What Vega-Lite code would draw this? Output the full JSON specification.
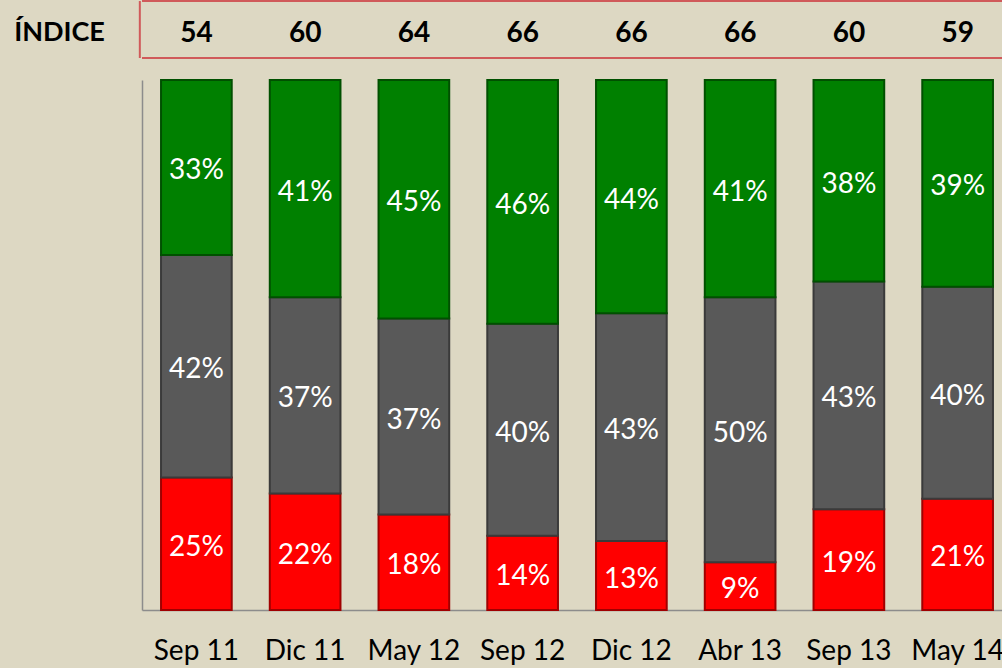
{
  "$schema": "https://vega.github.io/schema/vega-lite/v6.json",
  "width": 860,
  "height": 530,
  "autosize": {"type": "none"},
  "padding": {"left": 142, "top": 80, "right": 0, "bottom": 58},
  "background": "#DDD8C3",
  "config": {"view": {"stroke": null}, "font": "Lato"},
  "data": {"values": [
    {"period": "Sep 11", "cat": "Negativo", "pct": 0.25, "indice": 54},
    {"period": "Sep 11", "cat": "Neutral", "pct": 0.42, "indice": 54},
    {"period": "Sep 11", "cat": "Positivo", "pct": 0.33, "indice": 54},
    {"period": "Dic 11", "cat": "Negativo", "pct": 0.22, "indice": 60},
    {"period": "Dic 11", "cat": "Neutral", "pct": 0.37, "indice": 60},
    {"period": "Dic 11", "cat": "Positivo", "pct": 0.41, "indice": 60},
    {"period": "May 12", "cat": "Negativo", "pct": 0.18, "indice": 64},
    {"period": "May 12", "cat": "Neutral", "pct": 0.37, "indice": 64},
    {"period": "May 12", "cat": "Positivo", "pct": 0.45, "indice": 64},
    {"period": "Sep 12", "cat": "Negativo", "pct": 0.14, "indice": 66},
    {"period": "Sep 12", "cat": "Neutral", "pct": 0.40, "indice": 66},
    {"period": "Sep 12", "cat": "Positivo", "pct": 0.46, "indice": 66},
    {"period": "Dic 12", "cat": "Negativo", "pct": 0.13, "indice": 66},
    {"period": "Dic 12", "cat": "Neutral", "pct": 0.43, "indice": 66},
    {"period": "Dic 12", "cat": "Positivo", "pct": 0.44, "indice": 66},
    {"period": "Abr 13", "cat": "Negativo", "pct": 0.09, "indice": 66},
    {"period": "Abr 13", "cat": "Neutral", "pct": 0.50, "indice": 66},
    {"period": "Abr 13", "cat": "Positivo", "pct": 0.41, "indice": 66},
    {"period": "Sep 13", "cat": "Negativo", "pct": 0.19, "indice": 60},
    {"period": "Sep 13", "cat": "Neutral", "pct": 0.43, "indice": 60},
    {"period": "Sep 13", "cat": "Positivo", "pct": 0.38, "indice": 60},
    {"period": "May 14", "cat": "Negativo", "pct": 0.21, "indice": 59},
    {"period": "May 14", "cat": "Neutral", "pct": 0.40, "indice": 59},
    {"period": "May 14", "cat": "Positivo", "pct": 0.39, "indice": 59}
  ]},
  "transform": [
    {"stack": "pct", "groupby": ["period"], "sort": [{"field": "cat", "order": "ascending"}], "as": ["s0", "s1"]}
  ],
  "layer": [
    {
      "mark": {"type": "bar", "strokeWidth": 2},
      "encoding": {
        "x": {
          "field": "period", "type": "nominal",
          "sort": ["Sep 11", "Dic 11", "May 12", "Sep 12", "Dic 12", "Abr 13", "Sep 13", "May 14"],
          "scale": {"range": [0, 870], "paddingInner": 0.35, "paddingOuter": 0.175},
          "axis": {"title": null, "ticks": false, "domainColor": "#8c8c8c", "domainWidth": 1.5, "labelFontSize": 28, "labelColor": "black", "labelPadding": 27, "labelAngle": 0}
        },
        "y": {
          "field": "s1", "type": "quantitative",
          "scale": {"domain": [0, 1], "nice": false},
          "axis": {"title": "ÍNDICE", "labels": false, "ticks": false, "grid": false, "domainColor": "#8c8c8c", "domainWidth": 1.5,
                   "titleAngle": 0, "titleX": -83, "titleY": -48, "titleAlign": "center", "titleBaseline": "middle",
                   "titleFontSize": 27, "titleFontWeight": "bold", "titleColor": "black", "titleFont": "Lato"}
        },
        "y2": {"field": "s0"},
        "fill": {"field": "cat", "type": "nominal", "scale": {"domain": ["Negativo", "Neutral", "Positivo"], "range": ["#FF0000", "#595959", "#008000"]}, "legend": null},
        "stroke": {"field": "cat", "type": "nominal", "scale": {"domain": ["Negativo", "Neutral", "Positivo"], "range": ["#a00000", "#3a3a3a", "#005000"]}, "legend": null}
      }
    },
    {
      "transform": [
        {"fold": ["s0", "s1"], "as": ["k", "v"]},
        {"aggregate": [{"op": "mean", "field": "v", "as": "mid"}], "groupby": ["period", "cat", "pct"]}
      ],
      "mark": {"type": "text", "color": "white", "fontSize": 28, "baseline": "middle", "align": "center", "dy": 4},
      "encoding": {
        "x": {"field": "period", "type": "nominal", "sort": ["Sep 11", "Dic 11", "May 12", "Sep 12", "Dic 12", "Abr 13", "Sep 13", "May 14"]},
        "y": {"field": "mid", "type": "quantitative"},
        "text": {"field": "pct", "type": "quantitative", "format": ".0%"}
      }
    },
    {
      "transform": [{"filter": "datum.cat === 'Positivo'"}],
      "mark": {"type": "text", "color": "black", "fontSize": 28, "fontWeight": "bold", "baseline": "middle", "align": "center", "dy": 3},
      "encoding": {
        "x": {"field": "period", "type": "nominal", "sort": ["Sep 11", "Dic 11", "May 12", "Sep 12", "Dic 12", "Abr 13", "Sep 13", "May 14"]},
        "y": {"datum": 1.0925, "type": "quantitative"},
        "text": {"field": "indice", "type": "quantitative"}
      }
    },
    {
      "data": {"values": [{"edge": "top", "pos": 1.149}, {"edge": "bottom", "pos": 1.0415}]},
      "mark": {"type": "rule", "stroke": "#D05A5A", "strokeWidth": 2},
      "encoding": {
        "y": {"field": "pos", "type": "quantitative"}
      }
    },
    {
      "data": {"values": [{"edge": "left", "period": "Sep 11", "lo": 1.0415, "hi": 1.149}]},
      "mark": {"type": "rule", "stroke": "#D05A5A", "strokeWidth": 2},
      "encoding": {
        "x": {"field": "period", "type": "nominal", "bandPosition": -0.3, "sort": ["Sep 11", "Dic 11", "May 12", "Sep 12", "Dic 12", "Abr 13", "Sep 13", "May 14"]},
        "y": {"field": "lo", "type": "quantitative"},
        "y2": {"field": "hi"}
      }
    }
  ]
}
